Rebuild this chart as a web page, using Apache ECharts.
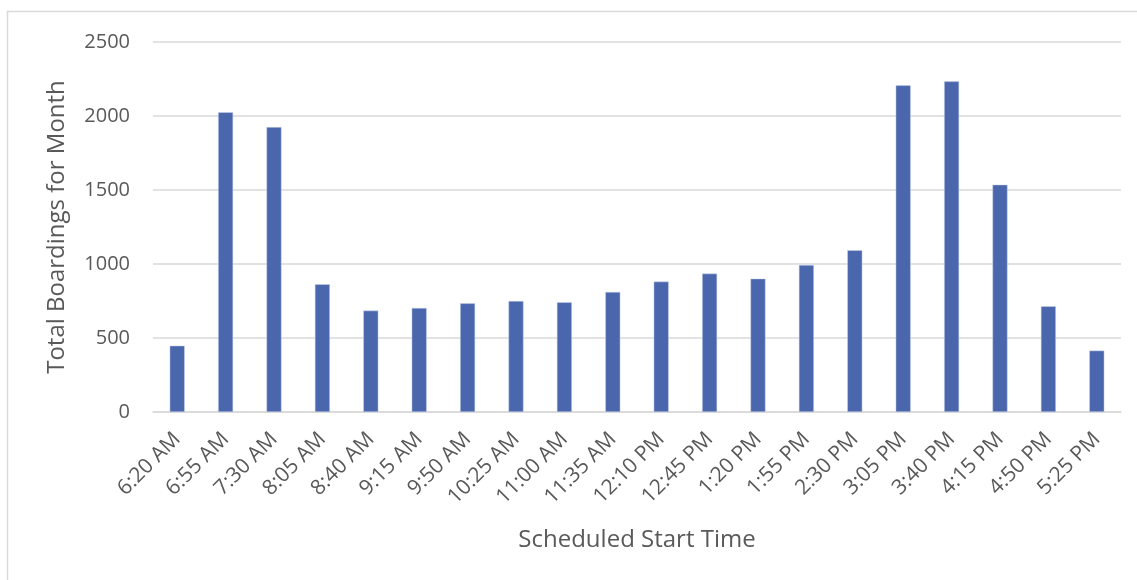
<!DOCTYPE html>
<html>
<head>
<meta charset="utf-8">
<script src="https://cdn.jsdelivr.net/npm/echarts@6/dist/echarts.min.js"></script>
<style>
  html, body { margin: 0; padding: 0; background: #fff; }
  #chart { width: 1137px; height: 580px; }
</style>
</head>
<body>
<div id="chart"></div>
<script>
// scheduled start times (x axis)
const startTimes = ['6:20 AM', '6:55 AM', '7:30 AM', '8:05 AM', '8:40 AM', '9:15 AM', '9:50 AM',
  '10:25 AM', '11:00 AM', '11:35 AM', '12:10 PM', '12:45 PM', '1:20 PM', '1:55 PM', '2:30 PM',
  '3:05 PM', '3:40 PM', '4:15 PM', '4:50 PM', '5:25 PM'];
// total boardings for the month
const boardings = [448, 2025, 1925, 863, 685, 703, 734, 750, 741, 811,
  881, 935, 901, 993, 1093, 2207, 2234, 1536, 714, 415];
// y axis ticks
const yMin = 0, yMax = 2500, yStep = 500;

const textColor = '#595959';
const fontFamily = '"Open Sans", "Noto Sans", sans-serif';

let myChart = echarts.init(document.getElementById('chart'));
myChart.setOption({
  animation: false,
  textStyle: { fontFamily: fontFamily },
  grid: { left: 153, right: 16, top: 42, bottom: 168, containLabel: false },
  graphic: [{
    type: 'rect',
    shape: { x: 7.5, y: 11.5, width: 1200, height: 600 },
    style: { fill: 'none', stroke: '#d9d9d9', lineWidth: 1.5 },
    silent: true
  }],
  xAxis: {
    type: 'category',
    data: startTimes,
    name: 'Scheduled Start Time',
    nameLocation: 'middle',
    nameGap: 116,
    nameTextStyle: { color: textColor, fontSize: 24, fontFamily: fontFamily },
    axisLine: { lineStyle: { color: '#d9d9d9', width: 1.5 } },
    axisTick: { show: false },
    axisLabel: { color: textColor, fontSize: 21, rotate: 45, margin: 24, interval: 0, fontFamily: fontFamily }
  },
  yAxis: {
    type: 'value',
    min: yMin,
    max: yMax,
    interval: yStep,
    name: 'Total Boardings for Month',
    nameLocation: 'middle',
    nameGap: 84,
    nameTextStyle: { color: textColor, fontSize: 24, fontFamily: fontFamily },
    axisLine: { show: false },
    axisTick: { show: false },
    axisLabel: { color: textColor, fontSize: 20, margin: 23, fontFamily: fontFamily, formatter: v => String(v) },
    splitLine: { lineStyle: { color: '#d9d9d9', width: 1.5 } }
  },
  series: [{
    type: 'bar',
    data: boardings,
    barWidth: 15,
    itemStyle: { color: '#4a66ac', borderColor: '#c9d3ea', borderWidth: 0.5 }
  }]
});
</script>
</body>
</html>
